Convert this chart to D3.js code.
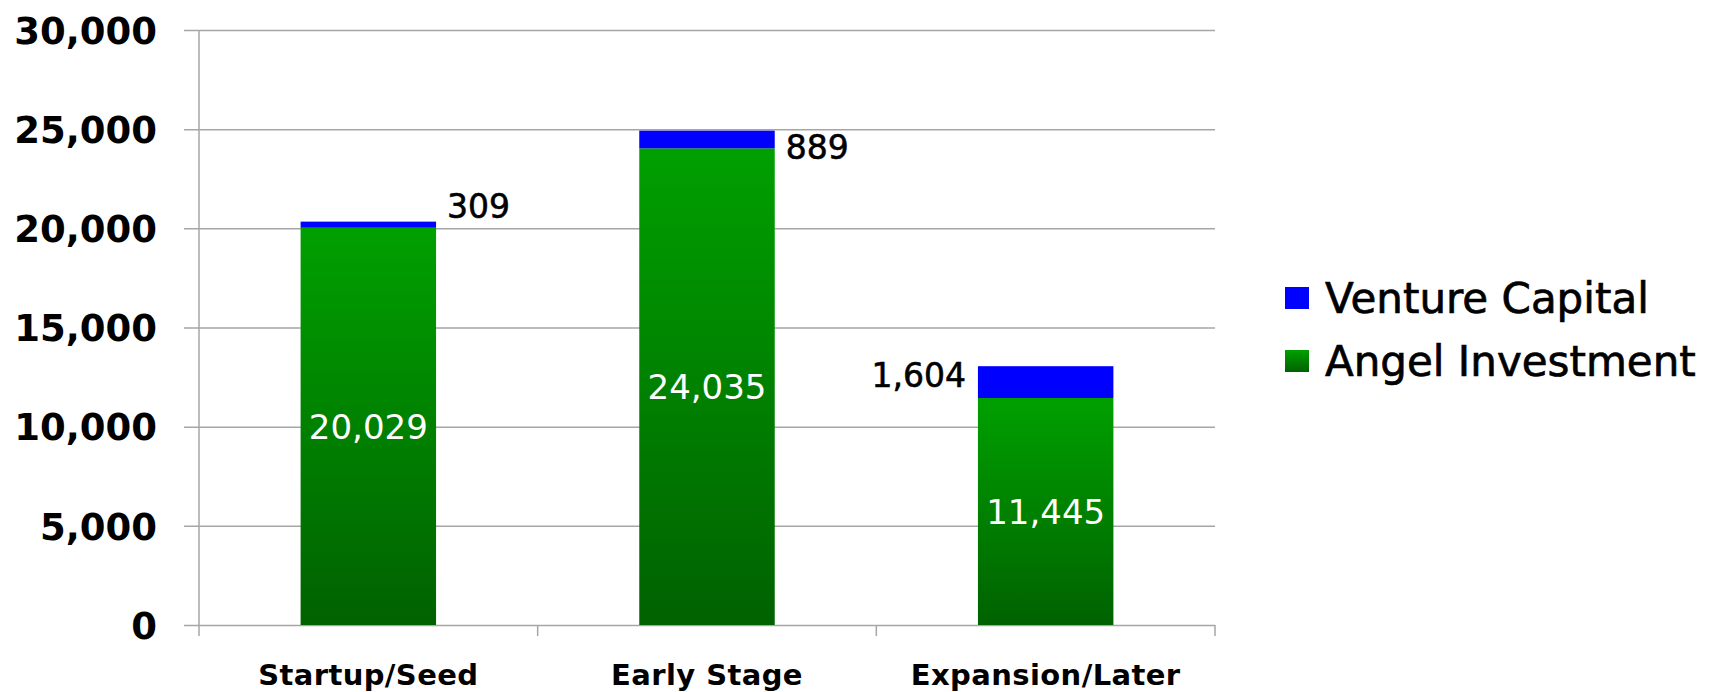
<!DOCTYPE html>
<html>
<head>
<meta charset="utf-8">
<script src="https://cdn.jsdelivr.net/npm/d3@7"></script>
<style>
  html, body { margin: 0; padding: 0; background: #fff; }
  svg { display: block; }
  text { font-family: "DejaVu Sans", Verdana, sans-serif; }
</style>
</head>
<body>
<svg id="chart" width="1717" height="692"></svg>
<script>
// ---- data ----
const categories = ["Startup/Seed", "Early Stage", "Expansion/Later"];
const angelInvestment = [20029, 24035, 11445];
const ventureCapital = [309, 889, 1604];
const seriesNames = ["Venture Capital", "Angel Investment"];
const yTickValues = [0, 5000, 10000, 15000, 20000, 25000, 30000];

// ---- layout ----
const W = 1717, H = 692;
const plot = { left: 199, right: 1215, top: 30, bottom: 625 };
// manual placement of the venture capital labels (as in the original)
const vcLabelLayout = [
  { side: "right", dy: -16 },
  { side: "right", dy: 16 },
  { side: "left", dy: 9 }
];

const svg = d3.select("#chart");

const defs = svg.append("defs");
const grad = defs.append("linearGradient")
  .attr("id", "greenGrad")
  .attr("x1", 0).attr("y1", 0).attr("x2", 0).attr("y2", 1);
grad.append("stop").attr("offset", "0%").attr("stop-color", "#00a000");
grad.append("stop").attr("offset", "100%").attr("stop-color", "#006200");

const y = d3.scaleLinear().domain([0, 30000]).range([plot.bottom, plot.top]);
const x = d3.scaleBand().domain(categories).range([plot.left, plot.right])
  .paddingInner(0.6).paddingOuter(0.3);

// gridlines + y ticks
const yAxis = d3.axisLeft(y).tickValues(yTickValues)
  .tickSize(-(plot.right - plot.left)).tickSizeOuter(0)
  .tickFormat(d3.format(","));
const gy = svg.append("g").attr("transform", `translate(${plot.left},0)`).call(yAxis);
gy.select(".domain").remove();
gy.selectAll(".tick line").attr("stroke", "#a6a6a6").attr("stroke-width", 1.5)
  .attr("x1", -15);
gy.selectAll(".tick text")
  .attr("x", -42).attr("dy", "0.36em")
  .attr("fill", "#000")
  .style("font-size", "37px").style("font-weight", "bold")
  .style("font-family", "'DejaVu Sans', sans-serif");

// y axis line
svg.append("line")
  .attr("x1", plot.left).attr("x2", plot.left)
  .attr("y1", plot.top).attr("y2", plot.bottom)
  .attr("stroke", "#a6a6a6").attr("stroke-width", 1.5);

// x axis category ticks at band boundaries
const step = x.step();
const boundaries = d3.range(categories.length + 1).map(i => plot.left + i * step);
svg.append("g").selectAll("line").data(boundaries).join("line")
  .attr("x1", d => d).attr("x2", d => d)
  .attr("y1", plot.bottom).attr("y2", plot.bottom + 11)
  .attr("stroke", "#a6a6a6").attr("stroke-width", 1.5);

// x labels
svg.append("g").selectAll("text").data(categories).join("text")
  .attr("x", d => x(d) + x.bandwidth() / 2)
  .attr("y", 685)
  .attr("text-anchor", "middle")
  .style("font-size", "29px").style("font-weight", "bold")
  .style("letter-spacing", "0.4px")
  .text(d => d);

// bars
const bars = svg.append("g");
categories.forEach((c, i) => {
  const a = angelInvestment[i], v = ventureCapital[i];
  bars.append("rect")
    .attr("x", x(c)).attr("width", x.bandwidth())
    .attr("y", y(a)).attr("height", y(0) - y(a))
    .attr("fill", "url(#greenGrad)");
  bars.append("rect")
    .attr("x", x(c)).attr("width", x.bandwidth())
    .attr("y", y(a + v)).attr("height", y(a) - y(a + v))
    .attr("fill", "#0000ff");
});

// angel labels (white, centered)
svg.append("g").selectAll("text").data(categories).join("text")
  .attr("x", d => x(d) + x.bandwidth() / 2)
  .attr("y", (d, i) => (y(0) + y(angelInvestment[i])) / 2)
  .attr("dy", "0.36em")
  .attr("text-anchor", "middle")
  .attr("fill", "#fff")
  .style("font-size", "34px")
  .text((d, i) => d3.format(",")(angelInvestment[i]));

// venture capital labels
svg.append("g").selectAll("text").data(categories).join("text")
  .attr("x", (d, i) => vcLabelLayout[i].side === "right" ? x(d) + x.bandwidth() + 11 : x(d) - 12)
  .attr("y", (d, i) => y(angelInvestment[i] + ventureCapital[i]) + vcLabelLayout[i].dy)
  .attr("dy", "0.36em")
  .attr("text-anchor", (d, i) => vcLabelLayout[i].side === "right" ? "start" : "end")
  .attr("fill", "#000")
  .attr("stroke", "#000").attr("stroke-width", 0.6)
  .style("font-size", "33px")
  .text((d, i) => d3.format(",")(ventureCapital[i]));

// legend
const legendColors = ["#0000ff", "url(#greenGrad)"];
const lg = svg.append("g").selectAll("g").data(seriesNames).join("g")
  .attr("transform", (d, i) => `translate(1285, ${298 + i * 63})`);
lg.append("rect").attr("x", 0).attr("y", -11).attr("width", 24).attr("height", 22)
  .attr("fill", (d, i) => legendColors[i]);
lg.append("text").attr("x", 40).attr("y", 0).attr("dy", "0.36em")
  .attr("stroke", "#000").attr("stroke-width", 0.7)
  .style("font-size", "42px")
  .text(d => d);
</script>
</body>
</html>
